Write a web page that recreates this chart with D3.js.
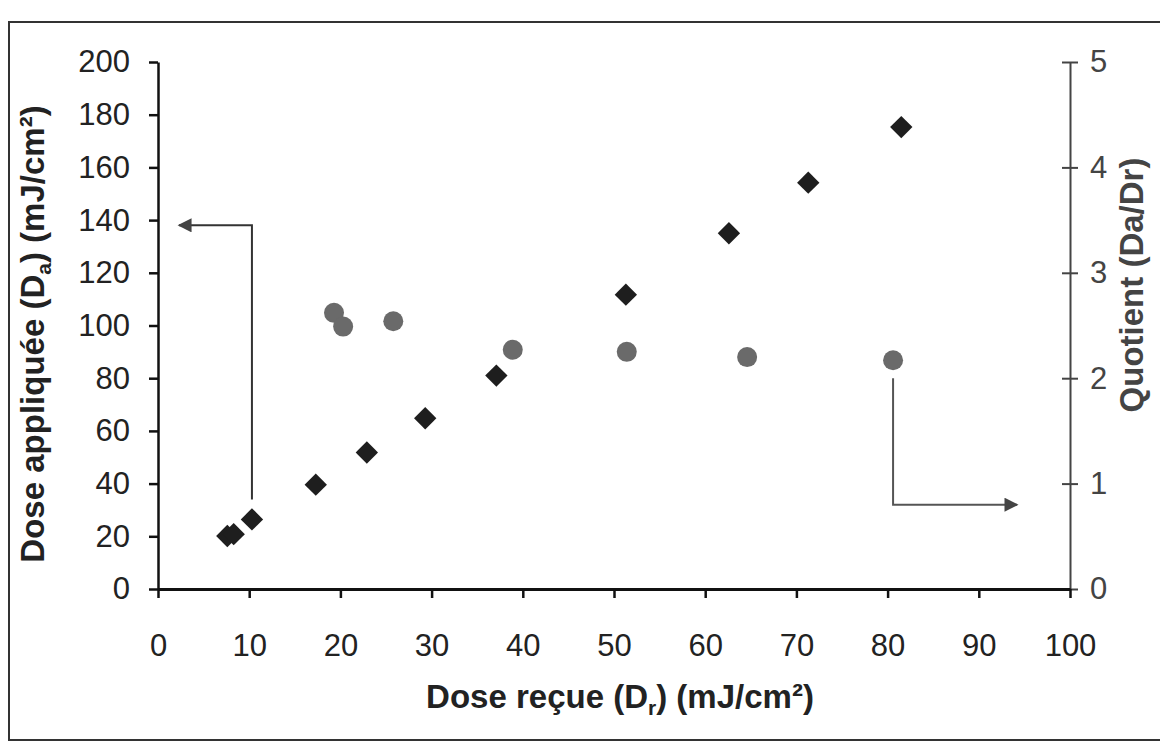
<!DOCTYPE html>
<html>
<head>
<meta charset="utf-8">
<script src="https://cdn.jsdelivr.net/npm/d3@7"></script>
<style>
  body { margin: 0; background: #fff; }
  svg text { font-family: "Liberation Sans", Arial, sans-serif; }
</style>
</head>
<body>
<div id="chart"></div>
<script>
// dose recue (Dr) vs dose appliquee (Da), diamonds, left axis
var drDiamond = [7.6, 8.3, 10.3, 17.3, 22.9, 29.3, 37.1, 51.3, 62.6, 71.3, 81.5];
var daDiamond = [20.1, 20.8, 26.4, 39.6, 51.8, 64.8, 81.0, 111.7, 135.0, 154.2, 175.3];

// quotient Da/Dr, circles, right axis
var drCircle = [19.3, 20.3, 25.8, 38.9, 51.4, 64.6, 80.6];
var quotient = [2.62, 2.49, 2.54, 2.27, 2.25, 2.20, 2.17];

var xTicks = [0, 10, 20, 30, 40, 50, 60, 70, 80, 90, 100];
var yLeftTicks = [0, 20, 40, 60, 80, 100, 120, 140, 160, 180, 200];
var yRightTicks = [0, 1, 2, 3, 4, 5];

var W = 1160, H = 744;
var mLeft = 158, mRight = 1070, mTop = 62, mBottom = 589;

var svg = d3.select("#chart").append("svg")
  .attr("width", W)
  .attr("height", H);

// outer frame
svg.append("rect")
  .attr("x", 9).attr("y", 22)
  .attr("width", 1170).attr("height", 718)
  .attr("fill", "none")
  .attr("stroke", "#333")
  .attr("stroke-width", 2);

var x = d3.scaleLinear().domain([0, 100]).range([mLeft, mRight]);
var yL = d3.scaleLinear().domain([0, 200]).range([mBottom, mTop]);
var yR = d3.scaleLinear().domain([0, 5]).range([mBottom, mTop]);

// left axis
var gL = svg.append("g")
  .attr("transform", "translate(" + mLeft + ",0)")
  .call(d3.axisLeft(yL).tickValues(yLeftTicks).tickSize(9).tickSizeOuter(0).tickPadding(19));
gL.select(".domain").attr("stroke", "#111").attr("stroke-width", 2.5);
gL.selectAll(".tick line").attr("stroke", "#111").attr("stroke-width", 2.5);
gL.selectAll("text").style("font-size", "31px").attr("fill", "#222");

// right axis (ticks cross the line)
var gR = svg.append("g")
  .attr("transform", "translate(" + mRight + ",0)")
  .call(d3.axisRight(yR).tickValues(yRightTicks).tickFormat(d3.format("d"))
    .tickSize(8).tickSizeOuter(0).tickPadding(12));
gR.select(".domain").attr("stroke", "#444").attr("stroke-width", 2);
gR.selectAll(".tick line").attr("x1", -8).attr("stroke", "#444").attr("stroke-width", 2);
gR.selectAll("text").style("font-size", "31px").attr("fill", "#444");

// bottom axis
var gX = svg.append("g")
  .attr("transform", "translate(0," + mBottom + ")")
  .call(d3.axisBottom(x).tickValues(xTicks).tickSize(9).tickSizeOuter(0).tickPadding(36));
gX.select(".domain").attr("stroke", "#111").attr("stroke-width", 3);
gX.selectAll(".tick line").attr("stroke", "#111").attr("stroke-width", 2.5);
gX.selectAll("text").style("font-size", "31px").attr("fill", "#222");

// axis titles
var xTitle = svg.append("text")
  .attr("x", 620).attr("y", 708)
  .attr("text-anchor", "middle")
  .style("font-size", "33px").style("font-weight", "bold").attr("fill", "#222");
xTitle.append("tspan").text("Dose reçue (D");
xTitle.append("tspan").attr("dy", 7).style("font-size", "21px").text("r");
xTitle.append("tspan").attr("dy", -7).text(") (mJ/cm²)");

var yTitle = svg.append("text")
  .attr("transform", "translate(44," + 334 + ") rotate(-90)")
  .attr("text-anchor", "middle")
  .style("font-size", "33px").style("font-weight", "bold").attr("fill", "#222");
yTitle.append("tspan").text("Dose appliquée (D");
yTitle.append("tspan").attr("dy", 7).style("font-size", "21px").text("a");
yTitle.append("tspan").attr("dy", -7).text(") (mJ/cm²)");

svg.append("text")
  .attr("transform", "translate(1143," + 285 + ") rotate(-90)")
  .attr("text-anchor", "middle")
  .style("font-size", "33px").style("font-weight", "bold").attr("fill", "#444")
  .text("Quotient (Da/Dr)");

// annotation arrows
svg.append("defs").append("marker")
  .attr("id", "head")
  .attr("viewBox", "0 0 10 10")
  .attr("refX", 9).attr("refY", 5)
  .attr("markerWidth", 16).attr("markerHeight", 14)
  .attr("markerUnits", "userSpaceOnUse")
  .attr("orient", "auto")
  .append("path")
  .attr("d", "M0,0 L10,5 L0,10 Z")
  .attr("fill", "#444");

svg.append("path")
  .attr("d", "M" + x(10.3) + "," + yL(34) + " V" + yL(138) + " H" + x(2.3))
  .attr("fill", "none").attr("stroke", "#333").attr("stroke-width", 2)
  .attr("marker-end", "url(#head)");

svg.append("path")
  .attr("d", "M" + x(80.6) + "," + yR(2.0) + " V" + yR(0.8) + " H" + x(94.2))
  .attr("fill", "none").attr("stroke", "#555").attr("stroke-width", 2)
  .attr("marker-end", "url(#head)");

// circles
svg.append("g")
  .selectAll("circle")
  .data(d3.range(drCircle.length))
  .enter().append("circle")
    .attr("cx", function(i) { return x(drCircle[i]); })
    .attr("cy", function(i) { return yR(quotient[i]); })
    .attr("r", 10)
    .attr("fill", "#6a6a6a");

// diamonds (squares rotated 45 deg)
var diamond = d3.symbol().type(d3.symbolSquare).size(250);
svg.append("g")
  .selectAll("path")
  .data(d3.range(drDiamond.length))
  .enter().append("path")
    .attr("d", diamond)
    .attr("transform", function(i) {
      return "translate(" + x(drDiamond[i]) + "," + yL(daDiamond[i]) + ") rotate(45)";
    })
    .attr("fill", "#1e1e1e");
</script>
</body>
</html>
